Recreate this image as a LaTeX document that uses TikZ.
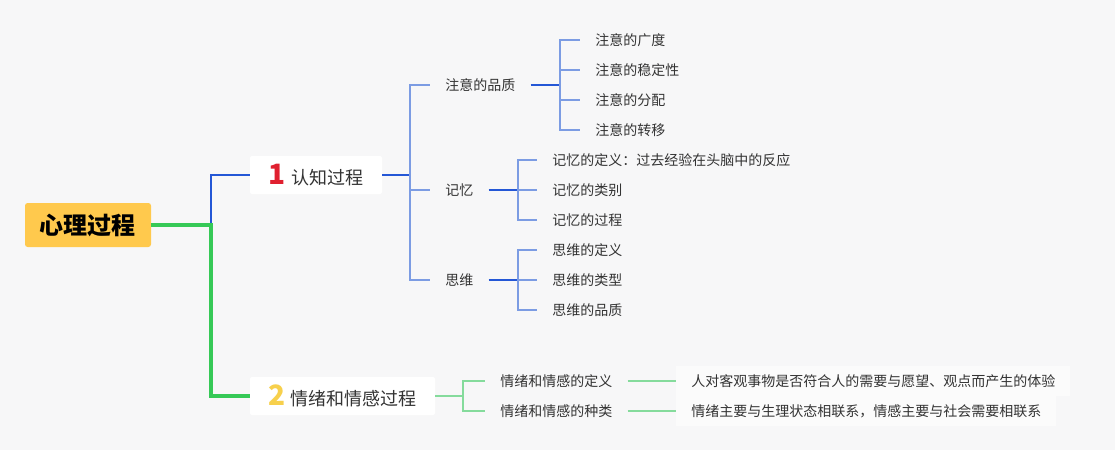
\documentclass[tikz,border=0pt]{standalone}
\usepackage{fontspec}
\newfontfamily\cjk{Noto Sans CJK SC}
\usetikzlibrary{positioning}
\definecolor{bgGray}{HTML}{F7F7F8}
\definecolor{txtGray}{HTML}{333333}
\definecolor{rootYellow}{HTML}{FFC94D}
\definecolor{numRed}{HTML}{E0202F}
\definecolor{numYellow}{HTML}{F7D04C}
\definecolor{mainGreen}{HTML}{36C957}
\definecolor{subGreen}{HTML}{85DB9C}
\definecolor{darkBlue}{HTML}{2457D6}
\definecolor{lightBlue}{HTML}{7C9CE3}

\begin{document}
\begin{tikzpicture}
    [x=0.75pt, y=-0.75pt,
     every node/.style={font=\cjk\fontsize{10.5}{12}\selectfont, text=txtGray},
     topic/.style={anchor=west, inner xsep=11.25pt, inner ysep=2pt},
     proc/.style={fill=white, rounded corners=1.5pt, minimum height=28.5pt,
       font=\cjk\fontsize{13.5}{16}\selectfont},
     mainG/.style={mainGreen, line width=3pt},
     subG/.style={subGreen, line width=1.1pt},
     darkB/.style={darkBlue, line width=1.5pt},
     lightB/.style={lightBlue, line width=1.1pt}]
    \fill [bgGray] (0, 0) rectangle (1115, 450);

    \node (0) [fill=rootYellow, rounded corners=2pt, minimum width=94.5pt, minimum height=33pt,
      font=\cjk\bfseries\fontsize{18}{20}\selectfont, text=black] at (88, 225) {心理过程};
    \node (1) [proc, minimum width=99pt] at (316, 175)
      {\textcolor{numRed}{\bfseries\fontsize{21}{22}\selectfont 1}\hspace{4pt}认知过程};
    \node (2) [proc, minimum width=138.75pt] at (342.5, 396)
      {\textcolor{numYellow}{\bfseries\fontsize{21}{22}\selectfont 2}\hspace{4pt}情绪和情感过程};

    % cognition
    \node (11) [topic] at (430, 85) {注意的品质};
    \node (12) [topic] at (430, 190) {记忆};
    \node (13) [topic] at (430, 280) {思维};
    \node (111) [topic] at (580, 40) {注意的广度};
    \node (112) [topic] at (580, 70) {注意的稳定性};
    \node (113) [topic] at (580, 100) {注意的分配};
    \node (114) [topic] at (580, 130) {注意的转移};
    \node (121) [topic] at (537, 160) {记忆的定义：过去经验在头脑中的反应};
    \node (122) [topic] at (537, 190) {记忆的类别};
    \node (123) [topic] at (537, 220) {记忆的过程};
    \node (131) [topic] at (537, 250) {思维的定义};
    \node (132) [topic] at (537, 280) {思维的类型};
    \node (133) [topic] at (537, 310) {思维的品质};

    % emotion
    \node (21) [topic] at (485, 381) {情绪和情感的定义};
    \node (22) [topic] at (485, 411) {情绪和情感的种类};
    \node (211) [topic, fill=white!45!bgGray, minimum height=22.5pt] at (676, 381)
      {人对客观事物是否符合人的需要与愿望、观点而产生的体验};
    \node (221) [topic, fill=white!45!bgGray, minimum height=22.5pt] at (676, 411)
      {情绪主要与生理状态相联系，情感主要与社会需要相联系};

    \coordinate (j0) at (211, 225);
    \coordinate (j1) at (410, 175);
    \coordinate (j11) at (560, 85);
    \coordinate (j12) at (518, 190);
    \coordinate (j13) at (518, 280);
    \coordinate (j2) at (463, 396);

    \draw [darkB] (j0) |- (1.west);
    \draw [mainG] (0.east) -- (j0) |- (2.west);

    \draw [darkB] (1.east) -- (j1);
    \foreach \n in {11, 12, 13}
      \draw [lightB] (j1) |- (\n.west);
    \draw [darkB] (11.east) -- (j11);
    \foreach \n in {111, 112, 113, 114}
      \draw [lightB] (j11) |- (\n.west);
    \draw [darkB] (12.east) -- (j12);
    \foreach \n in {121, 122, 123}
      \draw [lightB] (j12) |- (\n.west);
    \draw [darkB] (13.east) -- (j13);
    \foreach \n in {131, 132, 133}
      \draw [lightB] (j13) |- (\n.west);

    \draw [subG] (2.east) -- (j2);
    \foreach \n in {21, 22}
      \draw [subG] (j2) |- (\n.west);
    \draw [subG] (21.east) -- (211.west);
    \draw [subG] (22.east) -- (221.west);
  \end{tikzpicture}
\end{document}
